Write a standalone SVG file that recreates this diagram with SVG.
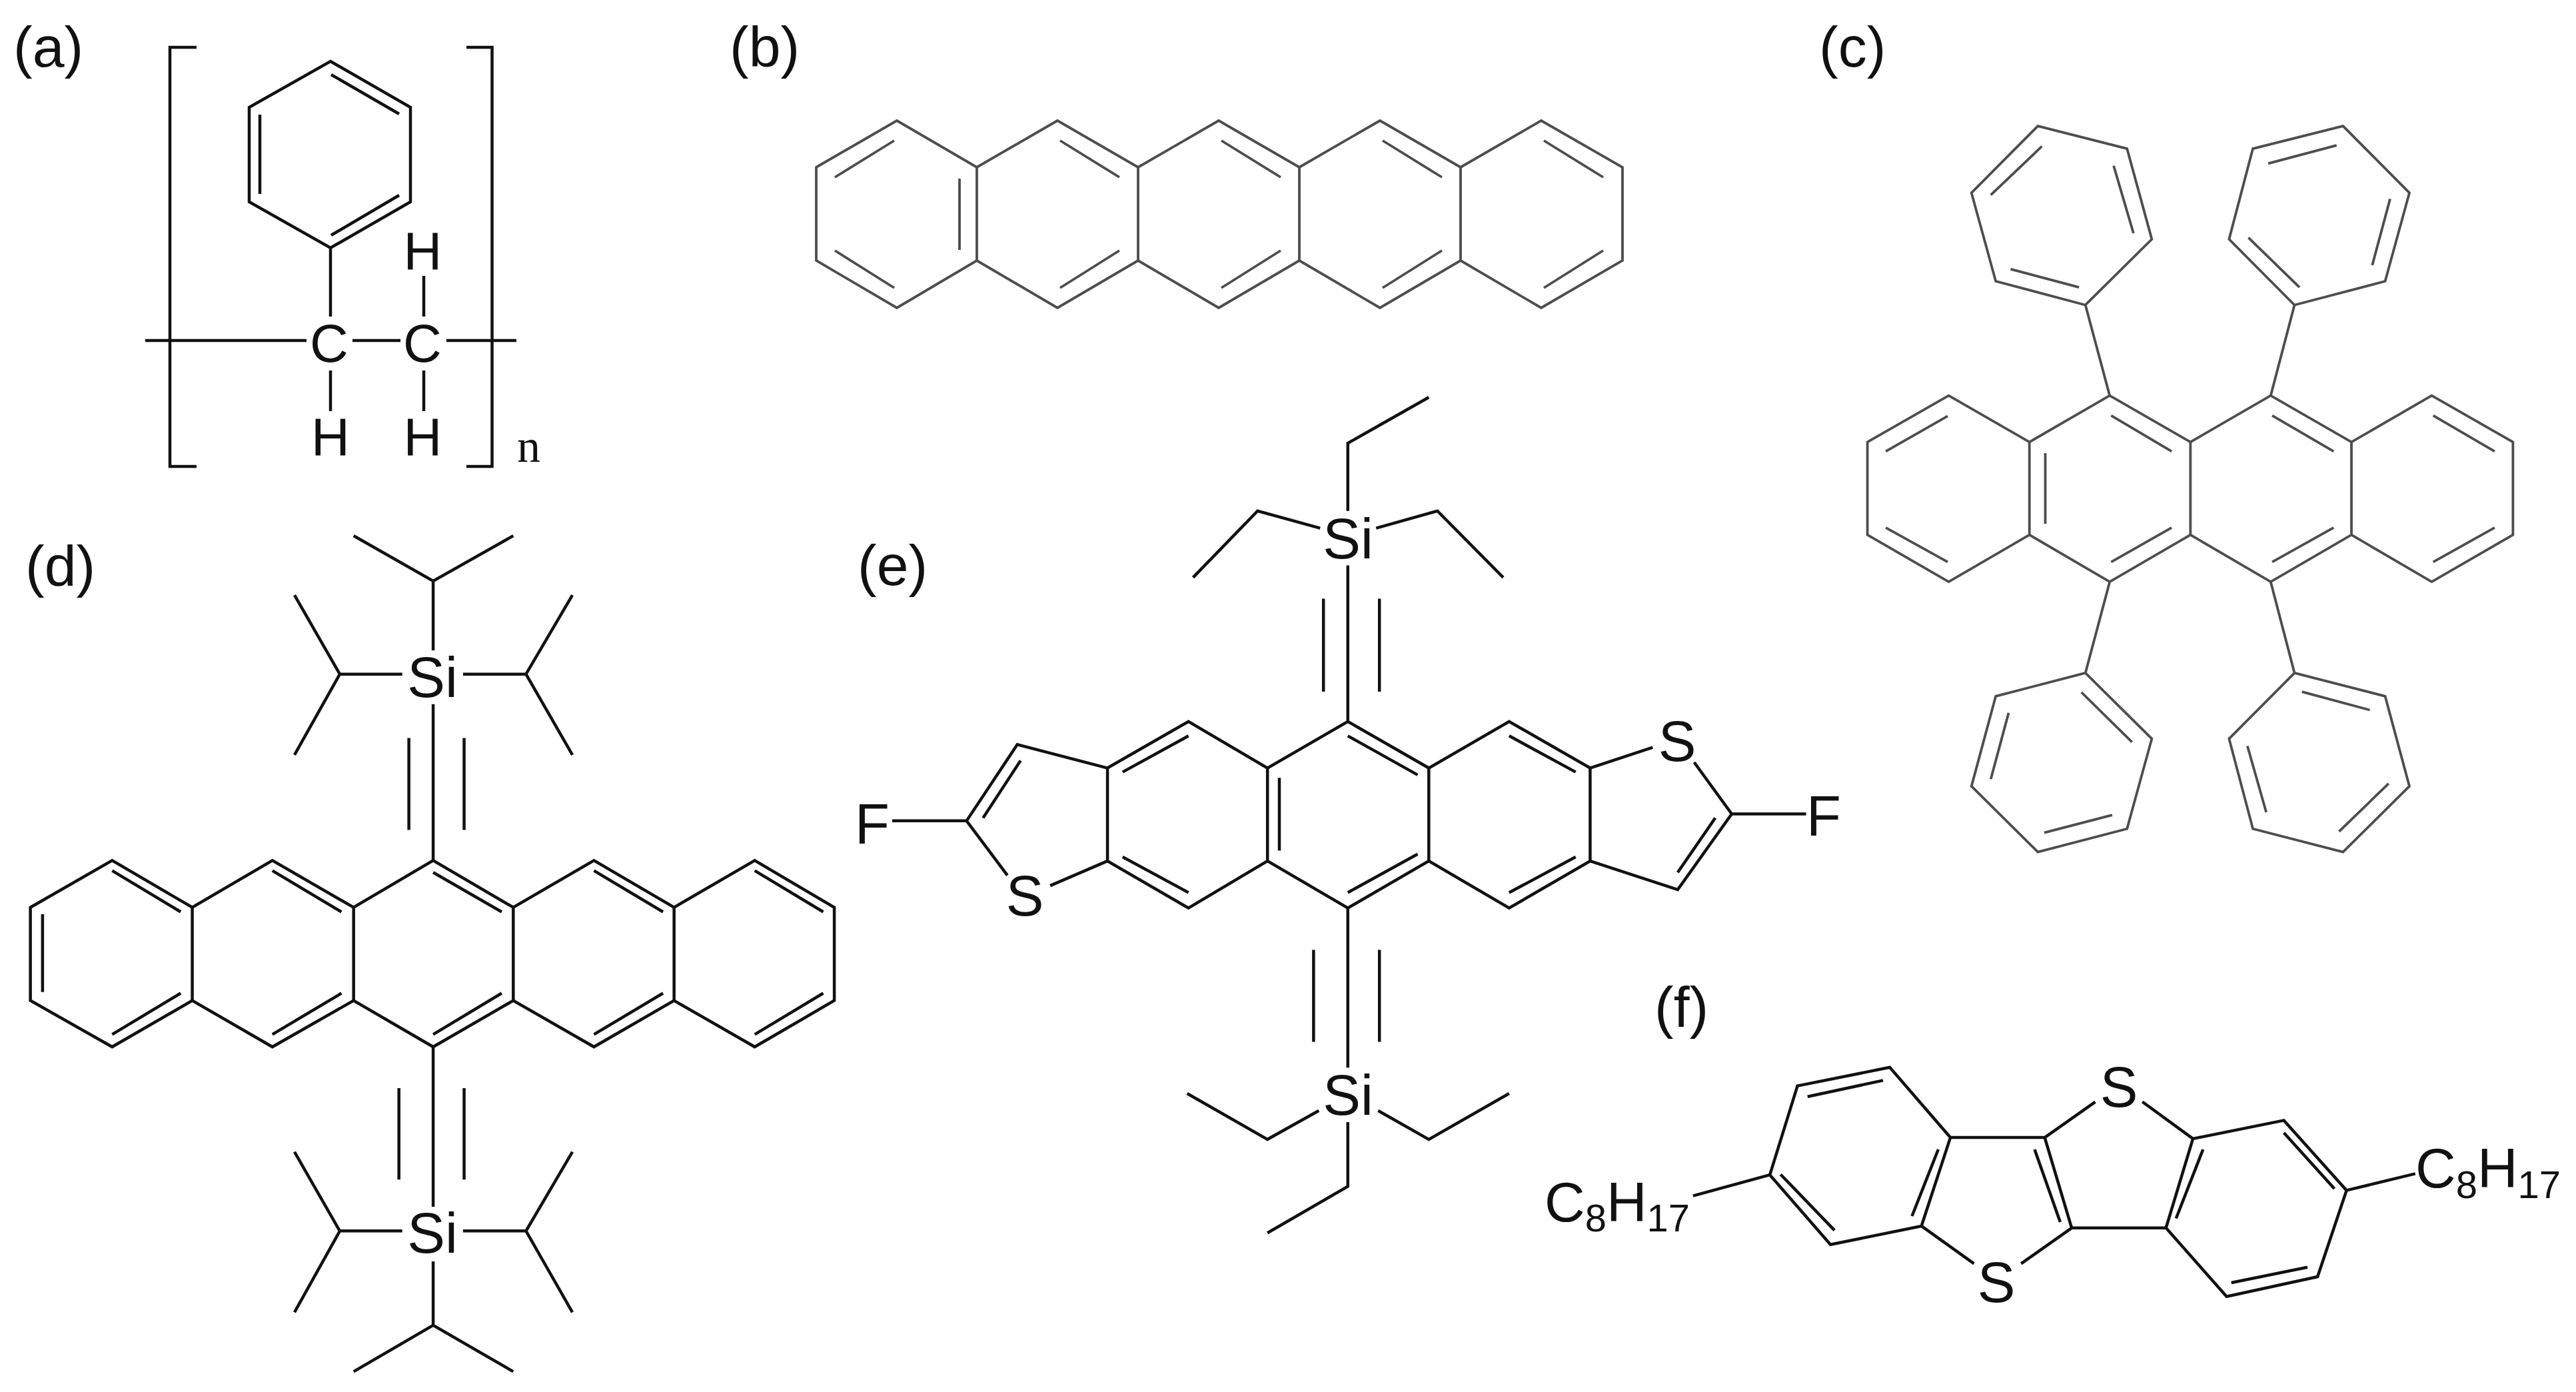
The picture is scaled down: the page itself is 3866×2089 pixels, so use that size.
<svg xmlns="http://www.w3.org/2000/svg" width="3866" height="2089" viewBox="0 0 3866 2089">
<style>
text{font-family:"Liberation Sans",Arial,sans-serif;fill:#111}
.lbl{font-size:86px}
.atom{font-size:85px;text-anchor:middle}
.ch{font-size:80px;text-anchor:middle}
.alk{font-size:84px}
.sub{font-size:58px}
.n{font-family:"Liberation Serif","Times New Roman",serif;font-size:70px}
.b{fill:none;stroke:#111;stroke-width:4.5;stroke-linejoin:miter;vector-effect:non-scaling-stroke}
.g{fill:none;stroke:#4d4d4d;stroke-width:3.8;stroke-linejoin:miter;vector-effect:non-scaling-stroke}
</style>
<rect width="3866" height="2089" fill="#fff"/>

<g id="mol-a">
<text class="lbl" x="20" y="100">(a)</text>
<g id="bonds-a">
<path class="b" d="M295 71H255V700H295M700 71H738.5V700H700"/>
<path class="b" d="M496 92L616 161V303L496 372L374 303V161ZM497 112L599 171M390 172V291M599 293L497 353M496 372V475M218 511H460M529 511H601M670 511H775M496 556V617M636 414V475M636 556V617"/>
</g>
<text class="ch" x="494" y="543">C</text>
<text class="ch" x="634" y="543">C</text>
<text class="ch" x="496" y="683">H</text>
<text class="ch" x="634.5" y="683">H</text>
<text class="ch" x="634.5" y="404">H</text>
<text class="n" x="776" y="693">n</text>
</g>

<g id="mol-b">
<text class="lbl" x="1095" y="100">(b)</text>
<g id="bonds-b">
<path class="g" d="M1225 251L1346 181L1466 251L1587 181L1708 251L1829 181L1950 251L2071 181L2192 251L2313 181L2435 251V391L2313 462L2192 391L2071 462L1950 391L1829 462L1708 391L1587 462L1466 391L1346 462L1225 391Z"/>
<path class="g" d="M1466 251V391M1708 251V391M1950 251V391M2192 251V391"/>
<path class="g" d="M1342 211L1253 266M1440 268V375M1253 376L1342 432M1591 211L1680 266M1680 376L1591 432M1833 211L1922 266M1922 376L1833 432M2075 211L2164 266M2164 376L2075 432M2317 211L2406 266M2406 376L2317 432"/>
</g>
</g>

<g id="mol-c">
<text class="lbl" x="2730" y="100">(c)</text>
<g id="bonds-c" transform="translate(2700 0) scale(.7435 .8292)">
<path class="g" d="M138 800L302 716L465 800L627 716L790 800L952 716L1115 800L1277 716L1441 800V968L1277 1053L1115 968L952 1053L790 968L627 1053L465 968L302 1053L138 968Z"/>
<path class="g" d="M465 800V968M790 800V968M1115 800V968"/>
<path class="g" d="M175 817L300 753M175 955L300 1017M497 820V948M630 752L752 817M630 1017L752 955M955 752L1079 817M955 1017L1079 955M1280 752L1404 817M1280 1017L1404 955"/>
<path class="g" d="M627 716L578 552M578 552L712 433L662 269L482 228L348 349L397 509ZM427 487L565 520M387 353L490 265M635 300L675 422"/>
<path class="g" d="M952 716L1000 552M1000 552L868 433L916 269L1098 228L1232 349L1183 509ZM907 430L1010 520M947 296L1085 263M1193 360L1157 480"/>
<path class="g" d="M627 1053L578 1218M578 1218L712 1337L662 1500L482 1542L348 1423L397 1260ZM570 1253L672 1343M495 1507L632 1475M387 1410L423 1290"/>
<path class="g" d="M952 1053L1000 1218M1000 1218L1183 1260L1232 1423L1098 1542L916 1500L868 1337ZM1015 1252L1152 1285M905 1350L943 1470M1090 1505L1190 1418"/>
</g>
</g>

<g id="mol-d">
<text class="lbl" x="38" y="879">(d)</text>
<g id="bonds-d" transform="translate(0 760) scale(.8292 .8475)">
<path class="b" d="M55 710L203 627L348 710L493 627L640 710L784 627L929 710L1075 627L1220 710L1366 627L1510 710V875L1366 957L1220 875L1075 957L929 875L784 957L640 875L493 957L348 875L203 957L55 875Z"/>
<path class="b" d="M348 710V875M640 710V875M929 710V875M1220 710V875"/>
<path class="b" d="M77 722V860M203 645L327 718M203 935L327 862M493 645L618 718M493 935L618 862M784 648L908 718M784 935L908 862M1075 645L1200 718M1075 935L1200 862M1366 645L1490 718M1366 935L1490 862"/>
<path class="b" d="M784 350V627M740 410V573M840 410V573"/>
<path class="b" d="M784 255V132M640 52L784 132L929 52M728 297H615M533 157L615 297L533 440M838 297H952M1036 157L952 297L1036 440"/>
<path class="b" d="M784 957V1240M722 1030V1192M840 1030V1192"/>
<path class="b" d="M728 1283H615M533 1143L615 1283L533 1427M838 1283H952M1036 1143L952 1283L1036 1427M784 1337V1450M640 1532L784 1450L929 1532"/>
</g>
<text class="atom" x="649" y="1046">Si</text>
<text class="atom" x="649" y="1880">Si</text>
</g>

<g id="mol-e">
<text class="lbl" x="1287" y="878">(e)</text>
<g id="bonds-e" transform="translate(1250 560) scale(.9882 .8613)">
<path class="b" d="M782 240V122L905 42M740 270L645 240L547 356M825 270L918 240L1018 356"/>
<path class="b" d="M782 335V607M745 393V555M830 393V555"/>
<path class="b" d="M417 688L540 607L660 688L782 607L905 688L1027 607L1150 688V850L1027 932L905 850L782 932L660 850L540 932L417 850Z"/>
<path class="b" d="M660 688V850M905 688V850"/>
<path class="b" d="M782 632L888 700M678 705V832M782 905L888 838M440 695L540 632M440 843L540 905M1027 632L1128 695M1027 905L1128 843"/>
<path class="b" d="M417 688L280 647L203 780L265 875M285 675L228 775M330 893L417 850M203 780H90"/>
<path class="b" d="M1150 688L1245 652M1308 678L1365 768L1283 900L1150 850M1340 775L1283 870M1365 768H1478"/>
<path class="b" d="M782 932V1210M730 1005V1165M830 1005V1165"/>
<path class="b" d="M738 1285L660 1335L538 1255M828 1285L905 1335L1027 1255M782 1305V1417L660 1498"/>
</g>
<text class="atom" x="2023" y="838">Si</text>
<text class="atom" x="2023" y="1673">Si</text>
<text class="atom" x="1538" y="1374">S</text>
<text class="atom" x="2517" y="1142">S</text>
<text class="atom" x="1309" y="1266">F</text>
<text class="atom" x="2737" y="1254">F</text>
</g>

<g id="mol-f">
<text class="lbl" x="2483" y="1541">(f)</text>
<g id="bonds-f" transform="translate(2280 1450) scale(1.0111 .3571)">
<path class="b" d="M550 425L413 503L372 877L462 1170L597 1092L640 720ZM428 548L540 480M388 875L468 1110"/>
<path class="b" d="M640 720H780L820 1100H960M622 770L583 1050M765 770L803 1075M780 720L855 570M925 570L1000 725M820 1100L745 1250M597 1092L675 1250"/>
<path class="b" d="M1000 725L1135 648L1228 942L1185 1305L1050 1388L960 1100ZM1135 700L1210 935M1057 1330L1170 1265M1015 770L975 1060"/>
<path class="b" d="M372 877L258 965M1228 942L1330 872"/>
</g>
<text class="atom" x="3180" y="1661">S</text>
<text class="atom" x="2996" y="1954">S</text>
<text class="alk" x="2318" y="1833">C<tspan class="sub" dy="15">8</tspan><tspan dy="-15">H</tspan><tspan class="sub" dy="15">17</tspan></text>
<text class="alk" x="3625" y="1782">C<tspan class="sub" dy="16">8</tspan><tspan dy="-16">H</tspan><tspan class="sub" dy="16">17</tspan></text>
</g>
</svg>
